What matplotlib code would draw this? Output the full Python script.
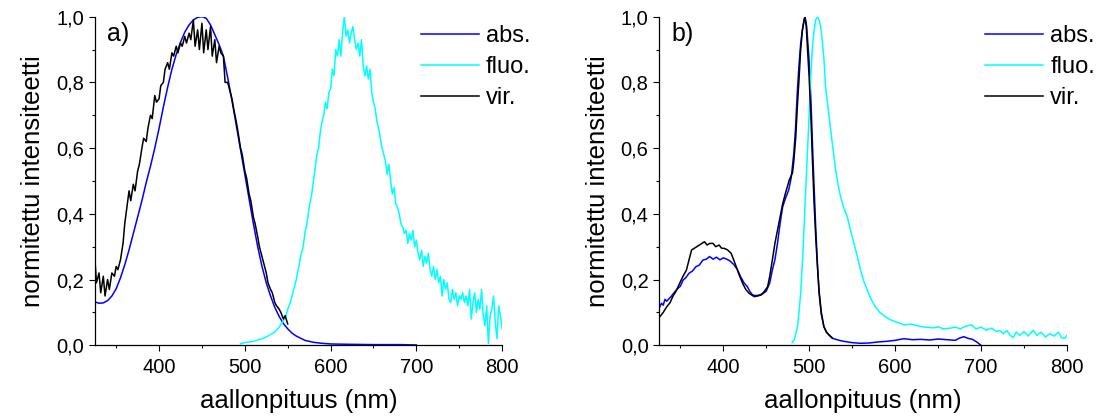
import matplotlib
matplotlib.use("Agg")
import matplotlib.pyplot as plt
from matplotlib.ticker import MultipleLocator, FuncFormatter

plt.rcParams['font.family'] = ['Liberation Sans', 'DejaVu Sans']

# ---------------- panel a) ----------------
a_abs_wl = [325, 330, 335, 340, 345, 350, 355, 360, 365, 370, 375, 380, 385, 390, 395, 400,
            405, 410, 415, 420, 425, 430, 435, 440, 445, 450, 455, 460, 465, 470, 475, 480,
            485, 490, 495, 500, 505, 510, 515, 520, 525, 530, 535, 540, 545, 550, 555, 560,
            570, 580, 590, 600, 620, 650, 680, 700]
a_abs_val = [0.132, 0.128, 0.129, 0.136, 0.150, 0.172, 0.205, 0.245, 0.290, 0.340, 0.390, 0.440,
             0.495, 0.545, 0.600, 0.660, 0.725, 0.785, 0.840, 0.885, 0.922, 0.953, 0.975, 0.990,
             0.998, 1.000, 0.995, 0.975, 0.945, 0.915, 0.880, 0.815, 0.745, 0.670, 0.595, 0.520,
             0.445, 0.370, 0.300, 0.240, 0.190, 0.150, 0.115, 0.088, 0.066, 0.050, 0.037, 0.028,
             0.015, 0.009, 0.006, 0.004, 0.003, 0.002, 0.002, 0.001]

a_vir_wl = [325, 327, 330, 332, 335, 337, 340, 342, 345, 348, 350, 352, 355, 358, 360, 362, 365,
            367, 370, 372, 375, 377, 380, 382, 385, 387, 390, 392, 395, 397, 400, 402, 405, 407,
            410, 412, 415, 417, 420, 422, 425, 427, 430, 432, 435, 437, 440, 442, 445, 447, 450,
            452, 455, 457, 460, 462, 465, 467, 470, 472, 475, 477, 480, 482, 485, 487, 490, 492,
            495, 497, 500, 502, 505, 507, 510, 512, 515, 517, 520, 522, 525, 527, 530, 532, 535,
            537, 540, 542, 545, 547, 550]
a_vir_val = [0.27, 0.19, 0.22, 0.16, 0.21, 0.15, 0.20, 0.17, 0.22, 0.21, 0.24, 0.23, 0.26, 0.31,
             0.37, 0.41, 0.47, 0.44, 0.49, 0.47, 0.53, 0.55, 0.60, 0.63, 0.62, 0.66, 0.70, 0.69,
             0.76, 0.74, 0.75, 0.79, 0.80, 0.84, 0.86, 0.84, 0.89, 0.88, 0.91, 0.89, 0.92, 0.91,
             0.94, 0.92, 0.95, 0.93, 0.99, 0.91, 0.96, 0.90, 0.98, 0.89, 0.96, 0.90, 0.97, 0.88,
             0.93, 0.86, 0.91, 0.89, 0.88, 0.80, 0.80, 0.78, 0.75, 0.72, 0.68, 0.65, 0.60, 0.58,
             0.53, 0.51, 0.46, 0.44, 0.39, 0.37, 0.33, 0.30, 0.27, 0.25, 0.22, 0.19, 0.17, 0.16,
             0.13, 0.12, 0.11, 0.10, 0.08, 0.09, 0.065]

a_flu_wl = [495, 500, 505, 510, 515, 520, 525, 530, 535, 540, 545, 548, 550, 553, 555, 558, 560,
            563, 565, 568, 570, 573, 575, 578, 580, 582, 584, 586, 588, 590, 592, 594, 596, 598,
            600, 602, 604, 606, 608, 610, 612, 614, 616, 618, 620, 622, 624, 626, 628, 630, 632,
            634, 636, 638, 640, 642, 644, 646, 648, 650, 652, 654, 656, 658, 660, 662, 664, 666,
            668, 670, 672, 674, 676, 678, 680, 682, 684, 686, 688, 690, 692, 694, 696, 698, 700,
            702, 704, 706, 708, 710, 712, 714, 716, 718, 720, 722, 724, 726, 728, 730, 732, 734,
            736, 738, 740, 742, 744, 746, 748, 750, 752, 754, 756, 758, 760, 762, 764, 766, 768,
            770, 772, 774, 776, 778, 780, 782, 784, 786, 788, 790, 792, 794, 796, 798, 800]
a_flu_val = [0.005, 0.008, 0.010, 0.012, 0.016, 0.020, 0.025, 0.033, 0.040, 0.055, 0.075, 0.09,
             0.11, 0.13, 0.15, 0.18, 0.20, 0.24, 0.27, 0.30, 0.34, 0.38, 0.42, 0.46, 0.50, 0.54,
             0.58, 0.60, 0.65, 0.68, 0.70, 0.74, 0.72, 0.77, 0.78, 0.84, 0.82, 0.90, 0.88, 0.93,
             0.88, 0.95, 1.00, 0.94, 0.96, 0.92, 0.95, 0.97, 0.93, 0.90, 0.92, 0.88, 0.93, 0.85,
             0.82, 0.85, 0.81, 0.84, 0.77, 0.74, 0.72, 0.68, 0.66, 0.63, 0.60, 0.58, 0.56, 0.52,
             0.55, 0.50, 0.46, 0.48, 0.43, 0.42, 0.40, 0.37, 0.36, 0.34, 0.35, 0.31, 0.34, 0.32,
             0.35, 0.30, 0.32, 0.28, 0.26, 0.29, 0.24, 0.27, 0.25, 0.28, 0.23, 0.21, 0.24, 0.20,
             0.23, 0.19, 0.21, 0.15, 0.20, 0.17, 0.19, 0.14, 0.13, 0.17, 0.14, 0.16, 0.12, 0.15,
             0.14, 0.16, 0.13, 0.15, 0.12, 0.17, 0.08, 0.13, 0.16, 0.10, 0.14, 0.11, 0.17, 0.09,
             0.06, 0.12, 0.005, 0.09, 0.11, 0.15, 0.07, 0.02, 0.12, 0.09, 0.05]

# ---------------- panel b) ----------------
b_abs_wl = [326, 328, 330, 332, 334, 339, 345, 350, 353, 356, 360, 364, 368, 372, 376, 380, 384,
            388, 392, 396, 400, 404, 408, 412, 416, 420, 424, 428, 431, 434, 438, 442, 446, 450,
            454, 457, 460, 463, 466, 469, 472, 476, 479, 482, 484, 486, 488, 490, 492, 494, 495,
            497, 499.8, 502, 503.7, 505.5, 507.5, 509.5, 511.4, 514, 517, 520, 527, 535, 540, 550,
            560, 570, 580, 590, 600, 610, 620, 630, 640, 650, 660, 670, 675, 680, 685, 690, 695,
            700]
b_abs_val = [0.117, 0.128, 0.122, 0.140, 0.134, 0.148, 0.168, 0.180, 0.198, 0.205, 0.219, 0.226,
             0.239, 0.244, 0.259, 0.262, 0.270, 0.262, 0.268, 0.260, 0.266, 0.262, 0.256, 0.246,
             0.232, 0.209, 0.190, 0.178, 0.163, 0.153, 0.151, 0.153, 0.157, 0.165, 0.190, 0.229,
             0.260, 0.310, 0.370, 0.421, 0.445, 0.472, 0.510, 0.584, 0.660, 0.766, 0.850, 0.918,
             0.960, 0.990, 1.000, 0.970, 0.867, 0.740, 0.614, 0.490, 0.360, 0.250, 0.158, 0.095,
             0.057, 0.040, 0.021, 0.015, 0.012, 0.008, 0.006, 0.007, 0.010, 0.012, 0.015, 0.020,
             0.017, 0.018, 0.016, 0.019, 0.017, 0.015, 0.022, 0.026, 0.021, 0.018, 0.010, 0.0]

b_vir_wl = [326, 330, 334, 338, 341, 345, 349, 353, 357, 360, 363, 366, 369, 372, 375, 378, 381,
            384, 388, 391, 395, 398, 401, 405, 409, 412, 415, 419, 422.5, 426, 430, 436, 440, 444,
            448, 451.5, 454, 457, 460, 463, 466, 469, 472, 476.6, 480.5, 482, 484.3, 486, 488.2,
            490, 492, 494, 495, 496.5, 498, 499.8, 502, 503.7, 505.5, 507.5, 509.5, 511.4, 514,
            517, 520, 523, 527]
b_vir_val = [0.087, 0.100, 0.117, 0.130, 0.148, 0.165, 0.188, 0.210, 0.229, 0.260, 0.290, 0.295,
             0.300, 0.305, 0.310, 0.315, 0.305, 0.310, 0.310, 0.300, 0.305, 0.295, 0.295, 0.290,
             0.280, 0.260, 0.239, 0.210, 0.188, 0.170, 0.158, 0.148, 0.150, 0.153, 0.165, 0.178,
             0.210, 0.259, 0.310, 0.350, 0.390, 0.430, 0.460, 0.502, 0.525, 0.560, 0.634, 0.720,
             0.816, 0.900, 0.958, 0.990, 1.000, 0.970, 0.900, 0.820, 0.690, 0.563, 0.440, 0.330,
             0.240, 0.168, 0.100, 0.057, 0.040, 0.031, 0.022]

b_flu_wl = [480, 483, 486.3, 488, 490, 492, 494, 496, 498, 500, 501.7, 503.5, 505.6, 507.5, 509.5,
            511.5, 513.3, 515, 517.2, 519, 522, 525, 528, 530.7, 533.5, 536.5, 540, 544.3, 548,
            552, 556, 559.7, 563.5, 567.5, 572, 577, 582, 588.7, 594, 600, 606, 610, 618, 625, 632,
            640, 645, 650, 656, 664, 670, 676, 682, 689, 694, 700, 706, 712, 718, 722, 726, 730,
            734, 737.6, 741, 745, 750, 755, 760.8, 765, 770, 775, 780, 785, 790, 794, 797.6, 800]
b_flu_val = [0.008, 0.020, 0.057, 0.100, 0.158, 0.250, 0.360, 0.480, 0.594, 0.710, 0.816, 0.900,
             0.958, 0.990, 1.000, 0.990, 0.970, 0.930, 0.867, 0.786, 0.720, 0.654, 0.590, 0.533,
             0.490, 0.452, 0.420, 0.391, 0.350, 0.310, 0.270, 0.229, 0.195, 0.168, 0.140, 0.117,
             0.100, 0.087, 0.078, 0.072, 0.067, 0.062, 0.064, 0.060, 0.056, 0.054, 0.053, 0.056,
             0.050, 0.052, 0.055, 0.050, 0.058, 0.062, 0.050, 0.055, 0.046, 0.052, 0.042, 0.045,
             0.035, 0.045, 0.030, 0.024, 0.040, 0.030, 0.042, 0.028, 0.046, 0.030, 0.040, 0.025,
             0.035, 0.028, 0.040, 0.022, 0.021, 0.030]

series_labels = ['abs.', 'fluo.', 'vir.']
series_colors = ['#0000FF', '#00FFFF', '#000000']
panel_labels = ['a)', 'b)']
x_label = 'aallonpituus (nm)'
y_label = 'normitettu intensiteetti'

fig = plt.figure(figsize=(10.99, 4.18), dpi=100)
ax_a = fig.add_axes([0.0862, 0.174, 0.3707, 0.7861])
ax_b = fig.add_axes([0.5996, 0.174, 0.3712, 0.7861])

comma = FuncFormatter(lambda v, p: ('%.1f' % v).replace('.', ','))

panels = [
    (ax_a, [(a_abs_wl, a_abs_val), (a_flu_wl, a_flu_val), (a_vir_wl, a_vir_val)]),
    (ax_b, [(b_abs_wl, b_abs_val), (b_flu_wl, b_flu_val), (b_vir_wl, b_vir_val)]),
]

for i, (ax, data) in enumerate(panels):
    for (wl, val), lab, col in zip(data, series_labels, series_colors):
        ax.plot(wl, val, color=col, lw=1.1, label=lab)
    ax.set_xlim(325, 800)
    ax.set_ylim(0, 1.0)
    ax.xaxis.set_major_locator(MultipleLocator(100))
    ax.xaxis.set_minor_locator(MultipleLocator(50))
    ax.yaxis.set_major_locator(MultipleLocator(0.2))
    ax.yaxis.set_minor_locator(MultipleLocator(0.1))
    ax.yaxis.set_major_formatter(comma)
    for s in ['top', 'right']:
        ax.spines[s].set_visible(False)
    for s in ['left', 'bottom']:
        ax.spines[s].set_linewidth(0.9)
    ax.tick_params(which='major', direction='out', length=4.5, width=0.8, labelsize=14.5)
    ax.tick_params(which='minor', direction='out', length=2.5, width=0.8)
    ax.tick_params(axis='x', which='major', pad=5)
    ax.tick_params(axis='y', which='major', pad=3)
    ax.set_xlabel(x_label, fontsize=18.5, labelpad=8)
    ax.set_ylabel(y_label, fontsize=18.5, labelpad=8)
    ax.text(0.031, 0.948, panel_labels[i], transform=ax.transAxes, fontsize=18,
            ha='left', va='center')
    ax.legend(loc='upper left', bbox_to_anchor=(0.80, 0.975), frameon=False, fontsize=17,
              handlelength=2.45, handletextpad=0.3, labelspacing=0.39, borderpad=0,
              borderaxespad=0)

fig.savefig('out.png', dpi=100)
